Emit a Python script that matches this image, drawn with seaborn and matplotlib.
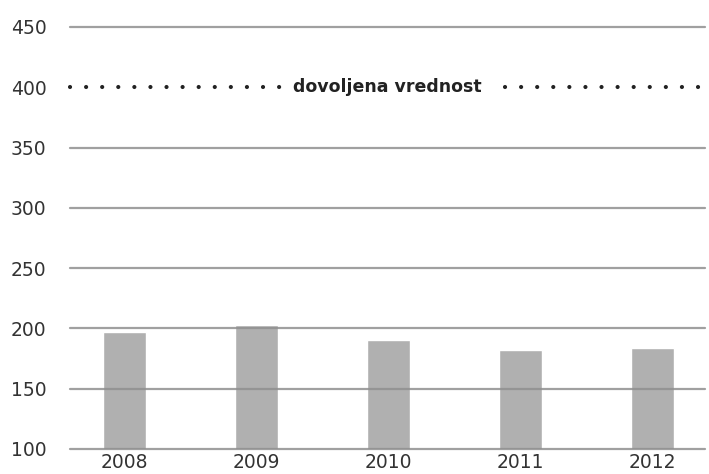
import matplotlib
matplotlib.use("Agg")
import matplotlib.pyplot as plt
import seaborn as sns
import pandas as pd

years = ["2008", "2009", "2010", "2011", "2012"]
values = [197, 203, 190, 182, 184]
limit_value = 400
limit_label = "dovoljena vrednost"
y_ticks = [100, 150, 200, 250, 300, 350, 400, 450]

sns.set_theme(style="white")
plt.rcParams['font.family'] = ['DejaVu Sans']

df = pd.DataFrame({"year": years, "value": values})

fig = plt.figure(figsize=(7.09, 4.74), dpi=100)
ax = fig.add_axes([70/709, 1-449/474, 635/709, 422/474])

sns.barplot(data=df, x="year", y="value", color="#b0b0b0", saturation=1,
            width=0.33, ax=ax, zorder=1)

ax.set_ylim(100, 450)
ax.set_xlim(-0.413, 4.398)
ax.set_yticks(y_ticks)
for t in y_ticks:
    if t != limit_value:
        ax.axhline(t, color="#8f8f8f", lw=1.6, alpha=0.85, zorder=2, clip_on=False)

# dotted limit line (two segments, interrupted by the label)
dot_style = dict(linestyle=(0, (0.01, 3.85)), lw=3.0, color="#222222",
                 dash_capstyle="round", clip_on=False, zorder=3)
ax.plot([-0.413, 1.185], [limit_value, limit_value], **dot_style)
ax.plot([2.882, 4.40], [limit_value, limit_value], **dot_style)
ax.text(1.992, limit_value, limit_label, ha="center", va="center",
        fontsize=12.5, fontweight="bold", color="#222222", zorder=4)

for s in ax.spines.values():
    s.set_visible(False)
ax.set_xlabel("")
ax.set_ylabel("")
ax.tick_params(axis="y", length=0, pad=17, labelsize=13.5, labelcolor="#333333")
ax.tick_params(axis="x", length=0, pad=3, labelsize=13.5, labelcolor="#333333")
ax.grid(False)

fig.savefig("out.png", dpi=100)
